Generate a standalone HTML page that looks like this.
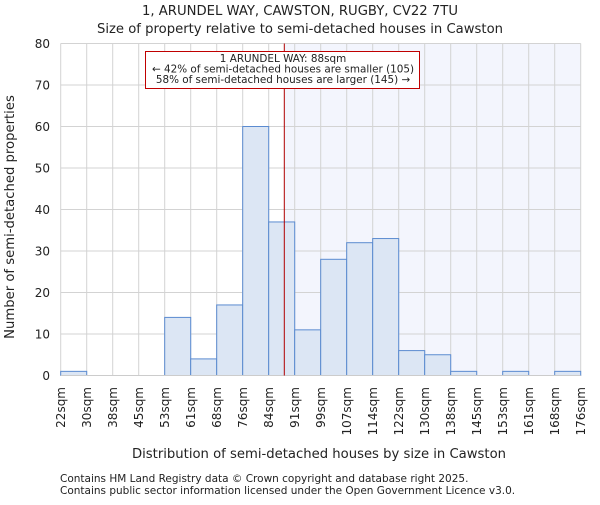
<!DOCTYPE html>
<html><head><meta charset="utf-8"><style>
body{margin:0;background:#fff}
svg text{font-family:"DejaVu Sans","Liberation Sans",sans-serif;fill:#222}
</style></head><body>
<svg width="600" height="500">
<text x="300" y="15" text-anchor="middle" font-size="13.2">1, ARUNDEL WAY, CAWSTON, RUGBY, CV22 7TU</text>
<text x="300" y="33" text-anchor="middle" font-size="13.2">Size of property relative to semi-detached houses in Cawston</text>
<g id="plot"></g>
<text x="319" y="458" text-anchor="middle" font-size="13.2">Distribution of semi-detached houses by size in Cawston</text>
<text transform="translate(14,217) rotate(-90)" text-anchor="middle" font-size="13.2">Number of semi-detached properties</text>
<text x="60" y="482" font-size="10.5">Contains HM Land Registry data © Crown copyright and database right 2025.</text>
<text x="60" y="494" font-size="10.5">Contains public sector information licensed under the Open Government Licence v3.0.</text>
</svg>
<script>
const labels=["22sqm","30sqm","38sqm","45sqm","53sqm","61sqm","68sqm","76sqm","84sqm","91sqm","99sqm","107sqm","114sqm","122sqm","130sqm","138sqm","145sqm","153sqm","161sqm","168sqm","176sqm"];
const counts=[1,0,0,0,14,4,17,60,37,11,28,32,33,6,5,1,0,1,0,1];
const yTicks=[0,10,20,30,40,50,60,70,80];
const propertyBin=8.6;
const NS="http://www.w3.org/2000/svg";
const g=document.getElementById('plot');
const x0=60.7,bw=26,y0=375.5,ppu=41.5/10;
const X=i=>x0+i*bw, Y=v=>y0-v*ppu;
function mk(t,a){const e=document.createElementNS(NS,t);for(const k in a)e.setAttribute(k,a[k]);g.appendChild(e);return e;}
const px=X(propertyBin);
let sh=mk('rect',{x:px,y:Y(80),width:X(counts.length)-px,height:y0-Y(80),fill:'#f3f5fd'});


for(let i=0;i<=counts.length;i++){let l=mk('line',{x1:X(i),x2:X(i),y1:Y(80),y2:y0,stroke:'#d3d3d3','stroke-width':1});

}
yTicks.forEach(v=>{let l=mk('line',{x1:x0,x2:X(counts.length),y1:Y(v),y2:Y(v),stroke:'#d3d3d3','stroke-width':1});


let t=mk('text',{x:50,y:Y(v)+4.5,'text-anchor':'end','font-size':12});t.textContent=v;

});
counts.forEach((c,i)=>{if(c<=0)return;let r=mk('rect',{x:X(i),y:Y(c),width:bw,height:y0-Y(c),fill:'#dce6f4',stroke:'#5b8bd0','stroke-width':1});

});
labels.forEach((s,i)=>{let t=mk('text',{transform:`translate(${X(i)+4.5},387) rotate(-90)`,'text-anchor':'end','font-size':12});t.textContent=s;

});
let ax=mk('line',{x1:x0,x2:X(counts.length),y1:y0,y2:y0,stroke:'#ccc'});


let pl=mk('line',{x1:px,x2:px,y1:Y(80),y2:y0,stroke:'#b00000','stroke-width':1});


let bx=mk('rect',{x:145.5,y:51.5,width:274,height:37,fill:'#fff',stroke:'#c00000','stroke-width':1});


["1 ARUNDEL WAY: 88sqm","← 42% of semi-detached houses are smaller (105)","58% of semi-detached houses are larger (145) →"].forEach((s,i)=>{let t=mk('text',{x:283,y:62+i*10.5,'text-anchor':'middle','font-size':10.4});t.textContent=s;

});
</script>
</body></html>
